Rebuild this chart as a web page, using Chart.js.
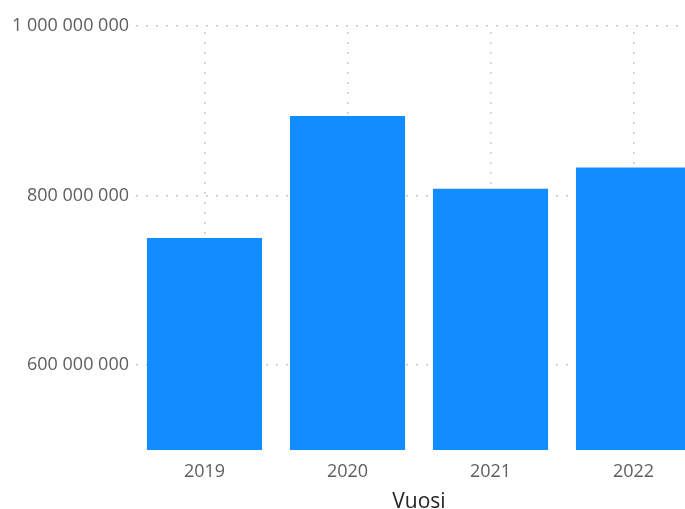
<!DOCTYPE html>
<html>
<head>
<meta charset="utf-8">
<script src="https://cdn.jsdelivr.net/npm/chart.js@4"></script>
<style>
  html, body { margin: 0; padding: 0; background: #fff; overflow: hidden; }
  #wrap { width: 705px; height: 509px; }
</style>
</head>
<body>
<div id="wrap"><canvas id="c" width="705" height="509"></canvas></div>
<script>
// Yearly totals
const years = ['2019', '2020', '2021', '2022'];
const totals = [750000000, 894000000, 808000000, 833000000];
const yTicks = [600000000, 800000000, 1000000000];
const yMin = 500000000;
const yMax = 1000000000;

const fmt = v => Math.round(v).toString().replace(/\B(?=(\d{3})+(?!\d))/g, ' ');

const gridDots = { color: '#c8c8c8', lineWidth: 1.5 };

new Chart(document.getElementById('c'), {
  type: 'bar',
  data: {
    labels: years,
    datasets: [{
      data: totals,
      backgroundColor: '#118DFF',
      borderWidth: 0,
      categoryPercentage: 1,
      barPercentage: 0.805
    }]
  },
  options: {
    responsive: false,
    animation: false,
    layout: { padding: { top: 26, left: 0, right: 0, bottom: 0 } },
    plugins: { legend: { display: false }, tooltip: { enabled: false } },
    scales: {
      x: {
        offset: true,
        grid: { offset: false, drawTicks: false, color: gridDots.color, lineWidth: gridDots.lineWidth },
        border: { display: false, dash: [2, 8], dashOffset: 4 },
        ticks: {
          padding: 11,
          color: '#605E5C',
          font: { family: 'Open Sans', size: 18 }
        },
        title: {
          display: true,
          text: 'Vuosi',
          color: '#252423',
          font: { family: 'Open Sans', size: 21 },
          padding: { top: 0, bottom: -6 }
        },
        afterFit: s => { s.height = 59; }
      },
      y: {
        min: yMin,
        max: yMax,
        afterBuildTicks: axis => { axis.ticks = yTicks.map(v => ({ value: v })); },
        grid: { drawTicks: false, color: gridDots.color, lineWidth: gridDots.lineWidth },
        border: { display: false, dash: [2, 8], dashOffset: 7 },
        ticks: {
          padding: 4,
          color: '#605E5C',
          font: { family: 'Open Sans', size: 18 },
          callback: v => fmt(v)
        },
        afterFit: s => { s.width = 133; }
      }
    }
  }
});
</script>
</body>
</html>
